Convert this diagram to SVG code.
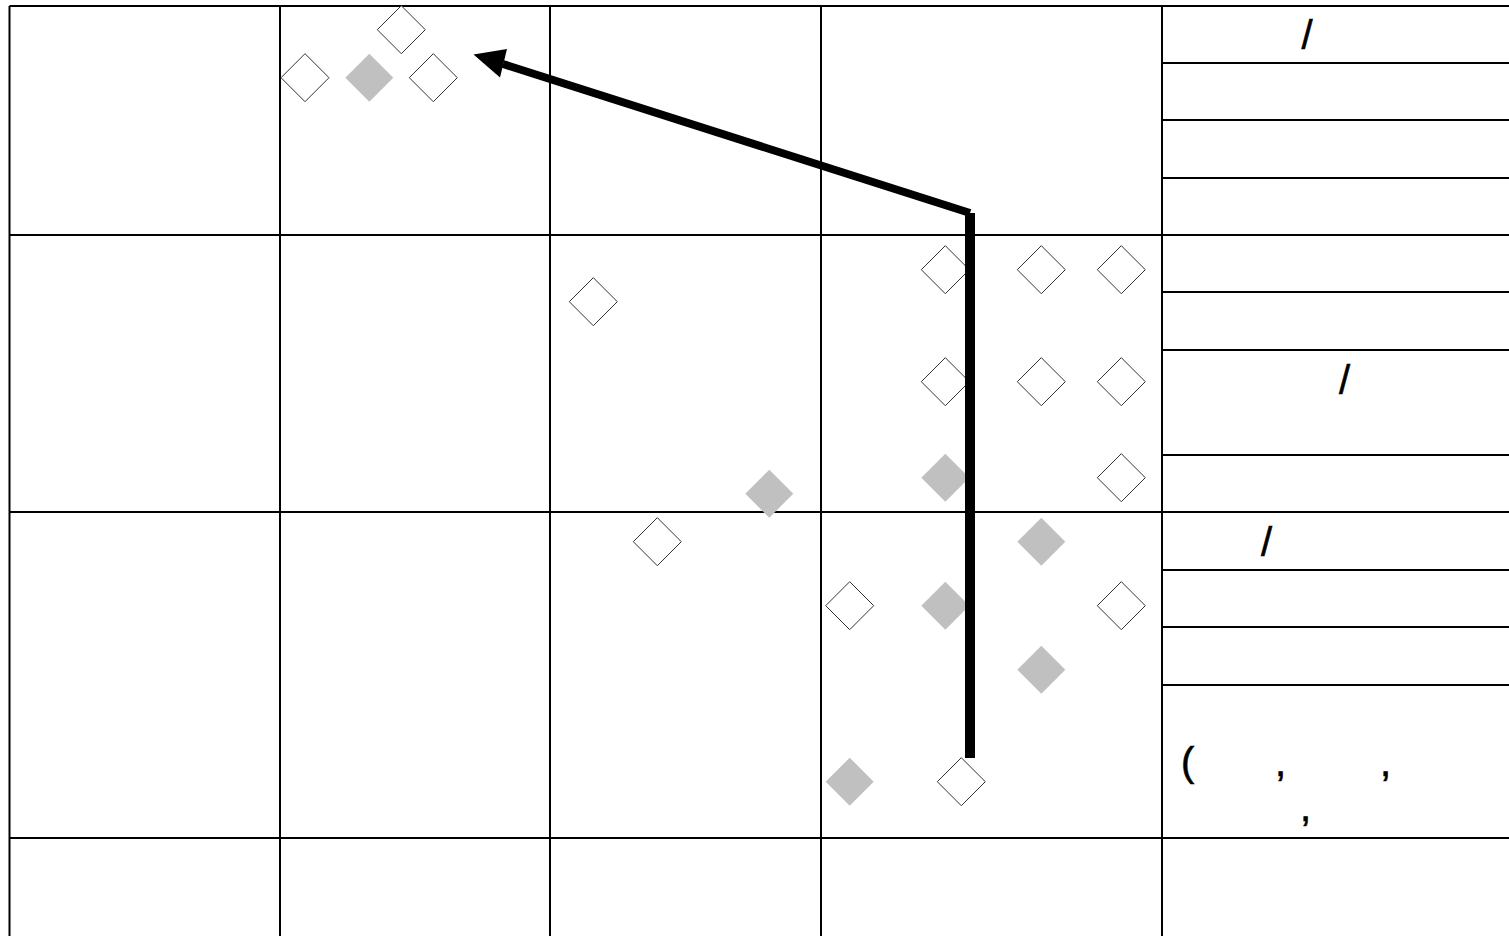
<svg xmlns="http://www.w3.org/2000/svg" xmlns:xlink="http://www.w3.org/1999/xlink" width="1509" height="936" viewBox="0 0 1509 936">
<style>
.grid{stroke:#000;stroke-width:2;fill:none}
.open{fill:#fff;stroke:#333;stroke-width:1}
.gray{fill:#c0c0c0;stroke:none}
.t{font-family:"Liberation Sans",Arial,sans-serif;font-size:40px;fill:#000;stroke:#000;stroke-width:0.6}
</style>
<defs>
<path id="dm" d="M0,-24 L24,0 L0,24 L-24,0 Z"/>
</defs>
<rect x="0" y="0" width="1509" height="936" fill="#fff"/>
<g id="grid" class="grid">
<line x1="9.5" y1="6" x2="1509" y2="6"/>
<line x1="9.5" y1="235" x2="1509" y2="235"/>
<line x1="9.5" y1="512" x2="1509" y2="512"/>
<line x1="9.5" y1="838" x2="1509" y2="838"/>
<line x1="9.5" y1="6" x2="9.5" y2="936"/>
<line x1="280" y1="6" x2="280" y2="936"/>
<line x1="550" y1="6" x2="550" y2="936"/>
<line x1="821" y1="6" x2="821" y2="936"/>
<line x1="1162" y1="6" x2="1162" y2="936"/>
<line x1="1162" y1="63" x2="1509" y2="63"/>
<line x1="1162" y1="120" x2="1509" y2="120"/>
<line x1="1162" y1="178" x2="1509" y2="178"/>
<line x1="1162" y1="292" x2="1509" y2="292"/>
<line x1="1162" y1="350" x2="1509" y2="350"/>
<line x1="1162" y1="455" x2="1509" y2="455"/>
<line x1="1162" y1="570" x2="1509" y2="570"/>
<line x1="1162" y1="627" x2="1509" y2="627"/>
<line x1="1162" y1="685" x2="1509" y2="685"/>
</g>
<g id="labels">
<text class="t" x="1301.5" y="49">/</text>
<text class="t" x="1339" y="393.5">/</text>
<text class="t" x="1261" y="556">/</text>
<text class="t" x="1181" y="775.5">(</text>
<text class="t" x="1275" y="775.5">,</text>
<text class="t" x="1380" y="775.5">,</text>
<text class="t" x="1300" y="821">,</text>
</g>
<g id="nodes">
<g id="n1"><use xlink:href="#dm" class="open" x="401.3" y="29.7"/></g>
<g id="n2"><use xlink:href="#dm" class="open" x="305" y="77.7"/></g>
<g id="n3"><use xlink:href="#dm" class="gray" x="369.3" y="77.7"/></g>
<g id="n4"><use xlink:href="#dm" class="open" x="433.3" y="77.7"/></g>
<g id="n5"><use xlink:href="#dm" class="open" x="593.3" y="301.7"/></g>
<g id="n6"><use xlink:href="#dm" class="gray" x="769.3" y="493.7"/></g>
<g id="n7"><use xlink:href="#dm" class="open" x="657.3" y="541.7"/></g>
<g id="n8"><use xlink:href="#dm" class="open" x="945.3" y="269.7"/></g>
<g id="n9"><use xlink:href="#dm" class="open" x="1041.3" y="269.7"/></g>
<g id="n10"><use xlink:href="#dm" class="open" x="1121.3" y="269.7"/></g>
<g id="n11"><use xlink:href="#dm" class="open" x="945.3" y="381.7"/></g>
<g id="n12"><use xlink:href="#dm" class="open" x="1041.3" y="381.7"/></g>
<g id="n13"><use xlink:href="#dm" class="open" x="1121.3" y="381.7"/></g>
<g id="n14"><use xlink:href="#dm" class="gray" x="945.3" y="477.7"/></g>
<g id="n15"><use xlink:href="#dm" class="open" x="1121.3" y="477.7"/></g>
<g id="n16"><use xlink:href="#dm" class="gray" x="1041.3" y="541.7"/></g>
<g id="n17"><use xlink:href="#dm" class="open" x="849.7" y="605.7"/></g>
<g id="n18"><use xlink:href="#dm" class="gray" x="945.3" y="605.7"/></g>
<g id="n19"><use xlink:href="#dm" class="open" x="1121.3" y="605.7"/></g>
<g id="n20"><use xlink:href="#dm" class="gray" x="1041.3" y="669.7"/></g>
<g id="n21"><use xlink:href="#dm" class="gray" x="849.7" y="781.7"/></g>
<g id="n22"><use xlink:href="#dm" class="open" x="961.3" y="781.7"/></g>
</g>
<g id="connectors">
<line x1="970" y1="758" x2="970" y2="213" stroke="#000" stroke-width="10" stroke-linecap="butt"/>
<line x1="970" y1="213" x2="503" y2="64" stroke="#000" stroke-width="8" stroke-linecap="butt"/>
<polygon points="473.5,54.5 507,49 500,77.5" fill="#000"/>
</g>
</svg>
